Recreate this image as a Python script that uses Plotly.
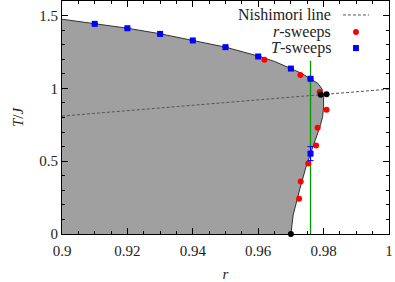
import plotly.graph_objects as go

# Phase boundary (r, T/J)
boundary_r = [0.9, 0.91, 0.92, 0.93, 0.94, 0.95, 0.96, 0.965, 0.97, 0.9735, 0.976, 0.9772, 0.978,
              0.9786, 0.9791, 0.9795, 0.9797, 0.9799, 0.9800, 0.9800, 0.9797, 0.9790, 0.9769,
              0.9748, 0.9728, 0.9707, 0.970]
boundary_T = [1.475, 1.443, 1.413, 1.375, 1.330, 1.283, 1.222, 1.185, 1.136, 1.100, 1.065, 1.050, 1.038,
              1.025, 1.011, 0.995, 0.977, 0.960, 0.940, 0.874, 0.805, 0.745, 0.612,
              0.475, 0.315, 0.132, 0.0]

# Nishimori line
nish_r = [0.9, 0.95, 1.0]
nish_T = [0.810, 0.902, 0.995]

# r-sweeps
rs_r = [0.9619, 0.9729, 0.9788, 0.9809, 0.9782, 0.9777, 0.9753, 0.9730, 0.9725]
rs_T = [1.196, 1.091, 0.975, 0.853, 0.730, 0.607, 0.484, 0.360, 0.242]

# T-sweeps
ts_r = [0.91, 0.92, 0.93, 0.94, 0.95, 0.96, 0.970, 0.976, 0.976]
ts_T = [1.443, 1.413, 1.374, 1.329, 1.283, 1.219, 1.136, 1.066, 0.552]
ts_err = [0, 0, 0, 0, 0, 0, 0, 0, 0.048]

# special points
blk_r = [0.9791, 0.9809, 0.970]
blk_T = [0.956, 0.959, 0.0]

# green line
green_r = [0.976, 0.976]
green_T = [0.0, 1.19]

# axis ticks
x_tickvals = [0.9, 0.92, 0.94, 0.96, 0.98, 1.0]
x_ticktext = ["0.9", "0.92", "0.94", "0.96", "0.98", "1"]
y_tickvals = [0, 0.5, 1.0, 1.5]
y_ticktext = ["0", "0.5", "1", "1.5"]

FONT = "Liberation Serif, Times New Roman, DejaVu Serif, serif"
TXT = "#222222"

fig = go.Figure()
fig.add_trace(go.Scatter(x=[0.9] + boundary_r, y=[0.0] + boundary_T, mode="lines",
                         fill="toself", fillcolor="#a0a0a0", line=dict(width=0),
                         hoverinfo="skip", showlegend=False))
fig.add_trace(go.Scatter(x=boundary_r, y=boundary_T, mode="lines",
                         line=dict(color="#303030", width=1),
                         showlegend=False))
fig.add_trace(go.Scatter(x=nish_r, y=nish_T, mode="lines",
                         line=dict(color="#555555", width=1, dash="3px,2px"), showlegend=False))
fig.add_trace(go.Scatter(x=green_r, y=green_T, mode="lines",
                         line=dict(color="#009900", width=1.3), showlegend=False))
fig.add_trace(go.Scatter(x=rs_r, y=rs_T, mode="markers",
                         marker=dict(color="#ff0000", size=6, symbol="circle"), showlegend=False))
fig.add_trace(go.Scatter(x=ts_r, y=ts_T, mode="markers",
                         error_y=dict(type="data", array=ts_err, color="#0000ff", thickness=1, width=3),
                         marker=dict(color="#0000ff", size=6, symbol="square"), showlegend=False))
fig.add_trace(go.Scatter(x=blk_r, y=blk_T, mode="markers",
                         marker=dict(color="#000000", size=6, symbol="circle"), showlegend=False,
                         cliponaxis=False))

# legend (manual, text right-aligned with symbol on the right)
leg_font = dict(family=FONT, size=16, color=TXT)
fig.add_annotation(xref="paper", yref="paper", x=0.829, y=0.94, text="Nishimori line",
                   xanchor="right", yanchor="middle", showarrow=False, font=leg_font)
fig.add_annotation(xref="paper", yref="paper", x=0.829, y=0.867, text="<i>r</i>-sweeps",
                   xanchor="right", yanchor="middle", showarrow=False, font=leg_font)
fig.add_annotation(xref="paper", yref="paper", x=0.829, y=0.798, text="<i>T</i>-sweeps",
                   xanchor="right", yanchor="middle", showarrow=False, font=leg_font)
fig.add_shape(type="line", xref="paper", yref="paper", x0=0.859, x1=0.939, y0=0.94, y1=0.94,
              line=dict(color="#555555", width=1, dash="3px,2px"))
fig.add_shape(type="circle", xref="paper", yref="paper", x0=0.890, x1=0.908, y0=0.854, y1=0.880,
              fillcolor="#ff0000", line=dict(width=0))
fig.add_shape(type="rect", xref="paper", yref="paper", x0=0.890, x1=0.908, y0=0.785, y1=0.811,
              fillcolor="#0000ff", line=dict(width=0))

axis_common = dict(showgrid=False, zeroline=False, showline=True, linecolor="#000000", linewidth=1,
                   mirror="ticks", ticks="inside", ticklen=6, tickcolor="#000000",
                   ticklabeloverflow="allow", automargin=False,
                   tickfont=dict(family=FONT, size=15, color=TXT))
fig.update_xaxes(range=[0.9, 1.0], tickvals=x_tickvals, ticktext=x_ticktext, ticklabelstandoff=3,
                 minor=dict(ticks="inside", ticklen=3, dtick=0.005, tick0=0.9, tickcolor="#000000"),
                 title=dict(text="<i>r</i>", font=dict(family=FONT, size=15, color=TXT), standoff=17),
                 **axis_common)
fig.update_yaxes(range=[0, 1.6], tickvals=y_tickvals, ticktext=y_ticktext,
                 minor=dict(ticks="inside", ticklen=3, dtick=0.1, tick0=0, tickcolor="#000000"),
                 title=dict(text="<i>T</i>/<i>J</i>", font=dict(family=FONT, size=15, color=TXT), standoff=12),
                 **axis_common)
fig.update_layout(width=395, height=282, margin=dict(l=62, r=6, t=1, b=48, autoexpand=False),
                  plot_bgcolor="white", paper_bgcolor="white", showlegend=False)
fig.write_html("out.html", config={"displayModeBar": False},
               post_script="document.body.style.margin='0';document.body.style.padding='0';")
